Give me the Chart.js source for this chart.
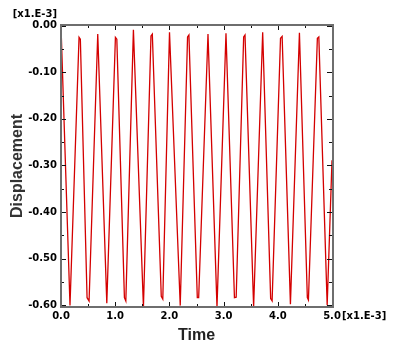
<!DOCTYPE html>
<html>
<head>
<meta charset="utf-8">
<script src="https://cdn.jsdelivr.net/npm/chart.js@4/dist/chart.umd.min.js"></script>
<style>
html,body{margin:0;padding:0;background:#fff;}
canvas{display:block;}
</style>
</head>
<body>
<canvas id="c" width="398" height="351"></canvas>
<script>
// Time [x1.E-3]
const times = [
  0.000, 0.166, 0.333, 0.357, 0.481, 0.518, 0.678, 0.845, 1.004, 1.030,
  1.170, 1.196, 1.336, 1.521, 1.660, 1.685, 1.850, 1.878, 2.002, 2.200,
  2.335, 2.360, 2.515, 2.540, 2.712, 2.878, 3.044, 3.200, 3.232, 3.370,
  3.395, 3.554, 3.721, 3.868, 3.895, 4.050, 4.080, 4.233, 4.399, 4.545,
  4.565, 4.730, 4.757, 4.911, 5.000
];
// Displacement [x1.E-3]
const displacement = [
  0.000, -0.601, -0.025, -0.029, -0.584, -0.591, -0.018, -0.596, -0.025, -0.029,
  -0.584, -0.591, -0.009, -0.604, -0.022, -0.018, -0.581, -0.587, -0.014, -0.601,
  -0.024, -0.020, -0.584, -0.584, -0.018, -0.604, -0.016, -0.584, -0.583, -0.024,
  -0.020, -0.604, -0.014, -0.586, -0.591, -0.027, -0.023, -0.598, -0.015, -0.584,
  -0.589, -0.027, -0.024, -0.600, -0.289
];
const xMajorTicks = [0, 1, 2, 3, 4, 5];
const xMinorTicks = [0.5, 1.5, 2.5, 3.5, 4.5];
const yMajorTicks = [-0.6, -0.5, -0.4, -0.3, -0.2, -0.1, 0];
const yMinorTicks = [-0.55, -0.45, -0.35, -0.25, -0.15, -0.05];
const xTitle = 'Time';
const yTitle = 'Displacement';
const scaleNote = '[x1.E-3]';

const points = times.map((t, i) => ({x: t, y: displacement[i]}));

const tickFont = {family: 'DejaVu Sans', weight: 'bold', size: 10};

const framePlugin = {
  id: 'frame',
  afterDraw(chart) {
    const {ctx, chartArea: a, scales: {x, y}} = chart;
    ctx.save();
    // inward tick marks on all four sides
    ctx.strokeStyle = '#111';
    ctx.lineWidth = 1;
    ctx.beginPath();
    const xt = (v, len) => {
      const px = Math.round(x.getPixelForValue(v)) + 0.5;
      ctx.moveTo(px, a.bottom); ctx.lineTo(px, a.bottom - len);
      ctx.moveTo(px, a.top); ctx.lineTo(px, a.top + len);
    };
    const yt = (v, len) => {
      const py = Math.round(y.getPixelForValue(v)) + 0.5;
      ctx.moveTo(a.left, py); ctx.lineTo(a.left + len, py);
      ctx.moveTo(a.right, py); ctx.lineTo(a.right - len, py);
    };
    xMajorTicks.forEach(v => xt(v, 5));
    xMinorTicks.forEach(v => xt(v, 3));
    yMajorTicks.forEach(v => yt(v, 5));
    yMinorTicks.forEach(v => yt(v, 3));
    ctx.stroke();
    // frame
    ctx.strokeStyle = '#6e6e6e';
    ctx.lineWidth = 2;
    ctx.strokeRect(a.left, a.top, a.right - a.left + 1, a.bottom - a.top);
    // scale notes
    ctx.fillStyle = '#000';
    ctx.font = 'bold 10px "DejaVu Sans"';
    ctx.textBaseline = 'middle';
    ctx.textAlign = 'right';
    ctx.fillText(scaleNote, a.left - 4, 14);
    ctx.textAlign = 'left';
    ctx.fillText(scaleNote, a.right + 10, y.bottom + 9);
    ctx.restore();
  }
};

new Chart(document.getElementById('c'), {
  type: 'line',
  data: {
    datasets: [{
      data: points,
      borderColor: '#d40000',
      borderWidth: 1.3,
      pointRadius: 0,
      tension: 0,
      fill: false
    }]
  },
  options: {
    responsive: false,
    animation: false,
    devicePixelRatio: 1,
    layout: {padding: {left: 0, top: 25, right: 66, bottom: 0}},
    plugins: {legend: {display: false}, tooltip: {enabled: false}},
    scales: {
      x: {
        type: 'linear',
        min: 0, max: 5,
        grid: {display: false, drawTicks: false},
        border: {display: false},
        afterBuildTicks: s => { s.ticks = xMajorTicks.map(v => ({value: v})); },
        afterFit: s => { s.height = 44; },
        ticks: {
          padding: 3,
          color: '#000',
          font: tickFont,
          maxRotation: 0,
          autoSkip: false,
          callback: v => Number(v).toFixed(1)
        },
        title: {
          display: true, text: xTitle, color: '#222',
          font: {family: 'Liberation Sans', weight: 'bold', size: 16},
          padding: {top: 0, bottom: 6}
        }
      },
      y: {
        type: 'linear',
        min: -0.604, max: 0.0015,
        grid: {display: false, drawTicks: false},
        border: {display: false},
        afterBuildTicks: s => { s.ticks = yMajorTicks.map(v => ({value: v})); },
        afterFit: s => { s.width = 61; },
        ticks: {
          padding: 4,
          color: '#000',
          font: tickFont,
          autoSkip: false,
          callback: v => (Math.abs(v) < 1e-9 ? 0 : Number(v)).toFixed(2)
        },
        title: {
          display: true, text: yTitle, color: '#333',
          font: {family: 'Liberation Sans', weight: 'bold', size: 16},
          padding: {top: 8, bottom: 0}
        }
      }
    }
  },
  plugins: [framePlugin]
});
</script>
</body>
</html>
